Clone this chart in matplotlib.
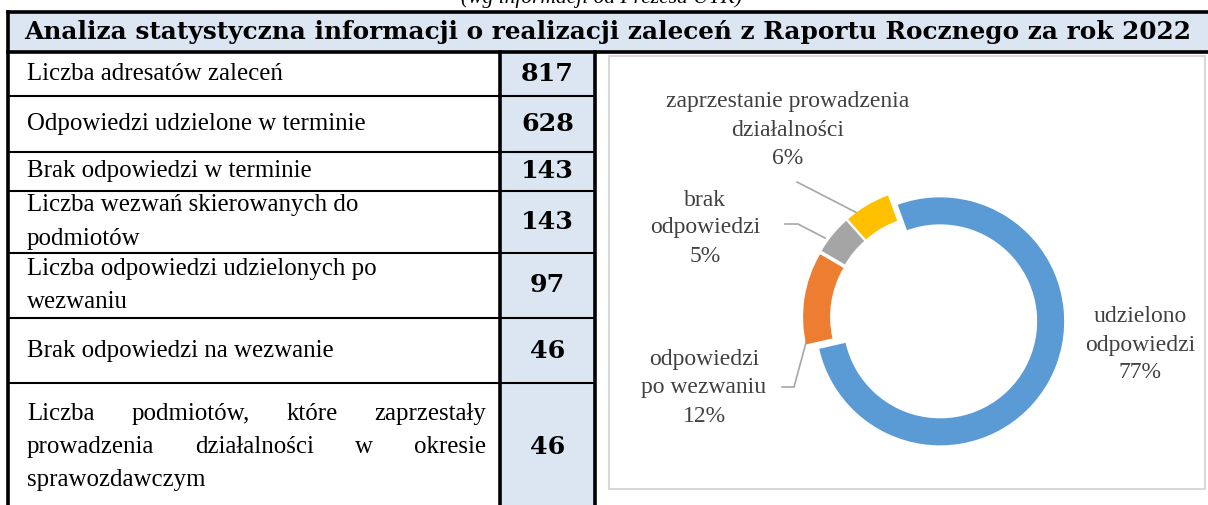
import numpy as np
import matplotlib
matplotlib.use("Agg")
import matplotlib.pyplot as plt
from matplotlib.patches import Rectangle

W, H = 1208, 505

subtitle = "(wg informacji od Prezesa UTK)"
title = "Analiza statystyczna informacji o realizacji zaleceń z Raportu Rocznego za rok 2022"

row_labels = [
    ["Liczba adresatów zaleceń"],
    ["Odpowiedzi udzielone w terminie"],
    ["Brak odpowiedzi w terminie"],
    ["Liczba wezwań skierowanych do", "podmiotów"],
    ["Liczba odpowiedzi udzielonych po", "wezwaniu"],
    ["Brak odpowiedzi na wezwanie"],
    ["Liczba podmiotów, które zaprzestały",
     "prowadzenia działalności w okresie",
     "sprawozdawczym"],
]
row_values = [817, 628, 143, 143, 97, 46, 46]

pie_labels = ["udzielono\nodpowiedzi", "odpowiedzi\npo wezwaniu",
              "brak\nodpowiedzi", "zaprzestanie prowadzenia\ndziałalności"]
pie_shares = [77, 12, 5, 6]
pie_colors = ["#5B9BD5", "#ED7D31", "#A5A5A5", "#FFC000"]

# layout (pixels)
row_edges = [52, 96, 152, 191, 253, 318, 383, 512]
x_left, x_col, x_right = 8, 500, 595
header_bg = "#DCE6F2"
label_color = "#404040"
SERIF = "Liberation Serif"
BOLD = "DejaVu Serif"

fig = plt.figure(figsize=(W / 100, H / 100), dpi=100)
ax = fig.add_axes([0, 0, 1, 1])
ax.set_xlim(0, W)
ax.set_ylim(H, 0)
ax.axis("off")
renderer = fig.canvas.get_renderer()


def text_width(s, size, family=SERIF, **kw):
    t = ax.text(0, 0, s, fontsize=size, family=family, **kw)
    w = t.get_window_extent(renderer).width
    t.remove()
    return w


def fit_size(s, width, **kw):
    return 10 * width / text_width(s, 10, **kw)


fs_title = fit_size(title, 1168, family=BOLD, weight="bold")
fs_body = fit_size("Odpowiedzi udzielone w terminie", 338)
fs_num = fit_size("817", 53, family=BOLD, weight="bold")
fs_pie = fit_size("zaprzestanie prowadzenia", 244)
fs_sub = fit_size(subtitle, 282, style="italic")

# subtitle, cut at the top edge
ax.text(602, 3, subtitle, fontsize=fs_sub, family=SERIF, style="italic",
        ha="center", va="baseline")

# header and value column backgrounds
ax.add_patch(Rectangle((x_left, 12), W - x_left + 5, row_edges[0] - 12,
                       fc=header_bg, ec="none"))
ax.add_patch(Rectangle((x_col, row_edges[0]), x_right - x_col,
                       H + 10 - row_edges[0], fc=header_bg, ec="none"))
ax.text((x_left + W) / 2, 32, title, fontsize=fs_title, family=BOLD,
        weight="bold", ha="center", va="center")

# grid lines
thick, thin = 2.6, 1.5
ax.plot([x_left, W + 5], [12, 12], color="black", lw=thick)
ax.plot([x_left, W + 5], [row_edges[0], row_edges[0]], color="black", lw=thick)
ax.plot([x_left, x_left], [12, H + 5], color="black", lw=thick)
for xv in (x_col, x_right):
    ax.plot([xv, xv], [row_edges[0], H + 5], color="black", lw=thick)
for yv in row_edges[1:-1]:
    ax.plot([x_left, x_right], [yv, yv], color="black", lw=thin)

# table rows
line_h = 33
for i, (lines, val) in enumerate(zip(row_labels, row_values)):
    y0, y1 = row_edges[i], row_edges[i + 1]
    if i == len(row_labels) - 1:
        yc = 447
    else:
        yc = (y0 + y1) / 2
    n = len(lines)
    for j, line in enumerate(lines):
        yl = yc + (j - (n - 1) / 2) * line_h
        justify = i == len(row_labels) - 1 and j < n - 1
        if justify:
            words = line.split(" ")
            widths = [text_width(w_, fs_body) for w_ in words]
            gap = (486 - 27 - sum(widths)) / (len(words) - 1)
            xw = 27
            for w_, wd in zip(words, widths):
                ax.text(xw, yl, w_, fontsize=fs_body, family=SERIF,
                        ha="left", va="center")
                xw += wd + gap
        else:
            ax.text(27, yl, line, fontsize=fs_body, family=SERIF,
                    ha="left", va="center")
    ax.text((x_col + x_right) / 2, yc, str(val), fontsize=fs_num,
            family=BOLD, weight="bold", ha="center", va="center")

# chart frame
ax.add_patch(Rectangle((609, 56), 1205 - 609, 489 - 56, fc="white",
                       ec="#D9D9D9", lw=1.5))

# doughnut
cx, cy, R, S = 934, 318, 124, 340
pax = fig.add_axes([(cx - S / 2) / W, (H - cy - S / 2) / H, S / W, S / H])
pax.pie(pie_shares, colors=pie_colors, startangle=110, counterclock=False,
        radius=R, explode=[7] * 4,
        wedgeprops=dict(width=27, edgecolor="white", linewidth=0))
pax.set_xlim(-S / 2, S / 2)
pax.set_ylim(-S / 2, S / 2)
pax.set_aspect("equal")
pax.axis("off")

# data labels and leader lines
label_pos = [(1140, 317), (704, 360), (705, 200), (788, 102)]
for lab, share, (lx, ly) in zip(pie_labels, pie_shares, label_pos):
    lines = lab.split("\n") + [f"{share}%"]
    for j, line in enumerate(lines):
        ax.text(lx, ly + j * 28, line, fontsize=fs_pie, family=SERIF,
                color=label_color, ha="center", va="center")

leader = "#A6A6A6"
ax.plot([782, 794, 817], [387, 387, 302], color=leader, lw=1.2)
ax.plot([785, 798, 825], [224, 224, 238], color=leader, lw=1.2)
ax.plot([797, 865], [182, 217], color=leader, lw=1.2)

fig.savefig("out.png", dpi=100)
